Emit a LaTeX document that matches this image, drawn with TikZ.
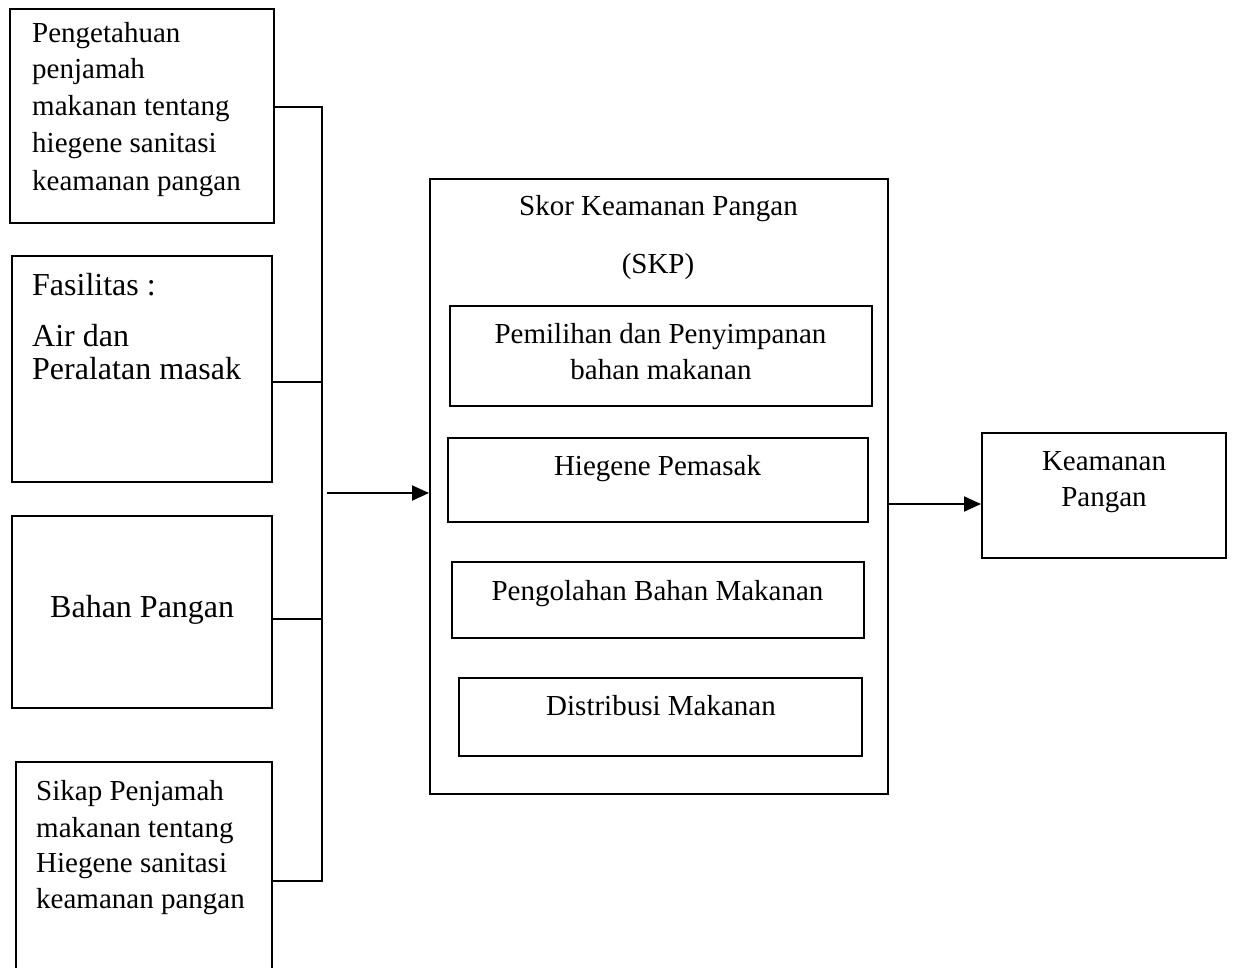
\documentclass[tikz,border=0pt]{standalone}
\usepackage{fontspec}
\setmainfont{Liberation Serif}
\usetikzlibrary{arrows.meta}
\newcommand{\fsa}{\fontsize{29}{36}\selectfont}
\newcommand{\fsb}{\fontsize{32}{38}\selectfont}
\tikzset{
  box/.style={draw=black, line width=2pt, fill=none, inner sep=0, rectangle},
  lt/.style={inner sep=0, anchor=base west, font=\fsa},
  ltb/.style={inner sep=0, anchor=base west, font=\fsb},
  ct/.style={inner sep=0, anchor=base, font=\fsa},
  conn/.style={draw=black, line width=2pt},
  arr/.style={conn, -{Triangle[length=17pt,width=15pt]}}
}
\begin{document}
\begin{tikzpicture}[x=1pt,y=-1pt]
\useasboundingbox (0,0) rectangle (1233,967);
\fill[white] (0,0) rectangle (1233,967);
% left boxes
\node[box, minimum width=264, minimum height=214] (b1) at (142,116) {};
\node[box, minimum width=260, minimum height=226] (b2) at (142,369) {};
\node[box, minimum width=260, minimum height=192] (b3) at (142,612) {};
\node[box, minimum width=256, minimum height=230] (b4) at (144,877) {};
% texts box 1
\node[lt] (t11) at (32,42) {Pengetahuan};
\node[lt] (t12) at (32,78) {penjamah};
\node[lt] (t13) at (32,115) {makanan tentang};
\node[lt] (t14) at (32,152) {hiegene sanitasi};
\node[lt] (t15) at (32,190) {keamanan pangan};
% box 2
\node[ltb] (t21) at (32,295) {Fasilitas :};
\node[ltb] (t22) at (32,346) {Air dan};
\node[ltb] (t23) at (32,379) {Peralatan masak};
% box 3
\node[ltb] (t31) at (50,617) {Bahan Pangan};
% box 4
\node[lt] (t41) at (36,800) {Sikap Penjamah};
\node[lt] (t42) at (36,837) {makanan tentang};
\node[lt] (t43) at (36,872) {Hiegene sanitasi};
\node[lt] (t44) at (36,908) {keamanan pangan};
% bus
\coordinate (bus1) at (322,107);
\coordinate (bus2) at (322,382);
\coordinate (bus3) at (322,619);
\coordinate (bus4) at (322,881);
\draw[conn] (b1.east |- bus1) -- (bus1) -- (bus4) -- (b4.east |- bus4);
\draw[conn] (b2.east |- bus2) -- (bus2);
\draw[conn] (b3.east |- bus3) -- (bus3);
% big box
\node[box, minimum width=458, minimum height=615] (big) at (659,486.5) {};
\node[ct] (s1) at (658.5,215) {Skor Keamanan Pangan};
\node[ct] (s2) at (658,273) {(SKP)};
\node[box, minimum width=422, minimum height=100] (p1) at (661,356) {};
\node[ct] (p1a) at (660.5,343) {Pemilihan dan Penyimpanan};
\node[ct] (p1b) at (661,379) {bahan makanan};
\node[box, minimum width=420, minimum height=84] (p2) at (658,480) {};
\node[ct] (p2a) at (657.5,475) {Hiegene Pemasak};
\node[box, minimum width=412, minimum height=76] (p3) at (658,600) {};
\node[ct] (p3a) at (657.5,600) {Pengolahan Bahan Makanan};
\node[box, minimum width=403, minimum height=78] (p4) at (660.5,717) {};
\node[ct] (p4a) at (661,715) {Distribusi Makanan};
% right box
\node[box, minimum width=244, minimum height=125] (kp) at (1104,495.5) {};
\node[ct] (k1) at (1104,470) {Keamanan};
\node[ct] (k2) at (1104,506) {Pangan};
% arrows
\coordinate (a0) at (327,493);
\draw[arr] (a0) -- (big.west |- a0);
\coordinate (a1) at (888,504);
\draw[arr] (big.east |- a1) -- (kp.west |- a1);
\end{tikzpicture}
\end{document}
